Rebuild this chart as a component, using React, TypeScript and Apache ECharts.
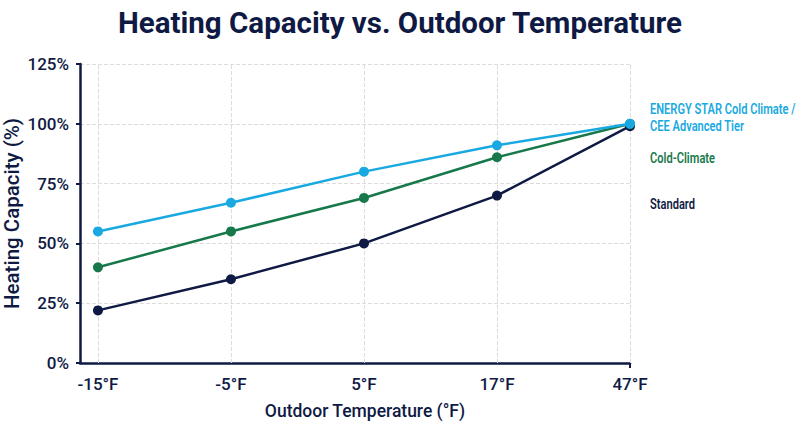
import React, { useEffect, useRef } from "react";
import * as echarts from "echarts";

const xCategories = ["-15°F", "-5°F", "5°F", "17°F", "47°F"];
const energyStar = [55, 67, 80, 91, 100];
const coldClimate = [40, 55, 69, 86, 100];
const standard = [22, 35, 50, 70, 99];
const yTicks = [0, 25, 50, 75, 100, 125];

const NAVY = "#0f1a44";
const BLUE = "#19a9e1";
const GREEN = "#17794b";
const FONT = "Roboto, 'Noto Sans', sans-serif";

const toPairs = (arr: number[]) => arr.map((v, i) => [i, v]);

export default function App() {
  const ref = useRef<HTMLDivElement>(null);
  useEffect(() => {
    document.body.style.margin = "0";
    if (!ref.current) return;
    const chart = echarts.init(ref.current, undefined, { renderer: "svg" });
    const idx = xCategories.map((_, i) => i);
    const mkSeries = (name: string, data: number[], color: string, z: number, extra: any = {}) => ({
      name,
      type: "line",
      data: toPairs(data),
      symbol: "circle",
      symbolSize: 10,
      z,
      lineStyle: { color, width: 2.5 },
      itemStyle: { color },
      ...extra,
    });
    chart.setOption({
      animation: false,
      backgroundColor: "#ffffff",
      title: {
        text: "Heating Capacity vs. Outdoor Temperature",
        left: "center",
        top: 3,
        textStyle: { fontFamily: FONT, fontWeight: "bold", fontSize: 29.5, color: NAVY },
      },
      grid: { left: 80, right: 170, top: 64, bottom: 73, containLabel: false, outerBoundsMode: "none" },
      xAxis: {
        type: "value",
        min: -0.135,
        max: 4,
        name: "Outdoor Temperature (°F)",
        nameLocation: "middle",
        nameGap: 39,
        nameMoveOverlap: false,
        nameTextStyle: { fontFamily: FONT, fontSize: 17.5, fontWeight: 500, color: NAVY, padding: [0, 0, 0, 20] },
        axisLine: { onZero: false, lineStyle: { color: NAVY, width: 2.5 } },
        axisTick: { show: true, customValues: [4], length: 5, lineStyle: { color: NAVY, width: 2 } },
        axisLabel: {
          customValues: idx,
          formatter: (v: number) => xCategories[Math.round(v)] ?? "",
          fontFamily: FONT,
          fontSize: 17,
          fontWeight: 500,
          color: NAVY,
          margin: 12,
        },
        splitLine: { show: false },
      },
      yAxis: {
        type: "value",
        min: 0,
        max: 125,
        interval: 25,
        name: "Heating Capacity (%)",
        nameLocation: "middle",
        nameGap: 58,
        nameMoveOverlap: false,
        nameTextStyle: { fontFamily: FONT, fontSize: 20.5, fontWeight: 500, color: NAVY },
        axisLine: { show: true, onZero: false, lineStyle: { color: NAVY, width: 2.5 } },
        axisTick: { show: true, length: 4, lineStyle: { color: NAVY, width: 2 } },
        axisLabel: {
          formatter: (v: number) => (yTicks.includes(v) ? `${v}%` : ""),
          fontFamily: FONT,
          fontSize: 17,
          fontWeight: 500,
          color: NAVY,
          margin: 11,
        },
        splitLine: { show: true, lineStyle: { color: "#dcdcdc", type: "dashed", width: 1 } },
      },
      series: [
        mkSeries("Standard", standard, NAVY, 3, {
          markLine: {
            silent: true,
            symbol: "none",
            label: { show: false },
            lineStyle: { color: "#dcdcdc", type: "dashed", width: 1 },
            data: idx.map((i) => ({ xAxis: i })),
            z: 1,
          },
        }),
        mkSeries("Cold-Climate", coldClimate, GREEN, 4),
        mkSeries("ENERGY STAR Cold Climate / CEE Advanced Tier", energyStar, BLUE, 5),
      ],
      graphic: [
        {
          type: "text",
          x: 650,
          y: 100,
          scaleX: 0.74,
          style: {
            text: "ENERGY STAR Cold Climate /\nCEE Advanced Tier",
            fill: BLUE,
            font: `600 15px ${FONT}`,
            lineHeight: 17,
          },
        },
        {
          type: "text",
          x: 650,
          y: 150,
          scaleX: 0.74,
          style: { text: "Cold-Climate", fill: GREEN, font: `600 15px ${FONT}` },
        },
        {
          type: "text",
          x: 650,
          y: 196,
          scaleX: 0.74,
          style: { text: "Standard", fill: NAVY, font: `600 15px ${FONT}` },
        },
      ],
    });
    return () => chart.dispose();
  }, []);
  return <div ref={ref} style={{ width: 800, height: 436 }} />;
}
